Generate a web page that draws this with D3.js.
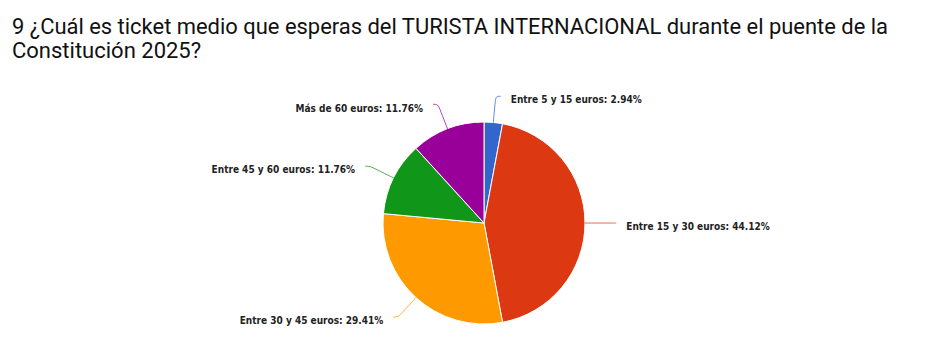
<!DOCTYPE html>
<html lang="es">
<head>
    <meta charset="utf-8">
    <title>Ticket medio turista internacional</title>
    <script src="https://cdn.jsdelivr.net/npm/d3@7/dist/d3.min.js"></script>
</head>
<style>
    body {
        margin: 0;
        padding: 0;
        background-color: #ffffff;
    }
    .chart-title {
        font-family: Roboto, sans-serif;
        font-size: 22px;
        fill: #111;
    }
    .slice-label {
        font-family: "DejaVu Sans Condensed", "DejaVu Sans", sans-serif;
        font-size: 10px;
        font-weight: bold;
        fill: #222;
    }
</style>
<body>
    <svg width="926" height="363" id="chart"></svg>
    <script>
        // data (clockwise from 12 o'clock)
        var categories = ["Entre 5 y 15 euros", "Entre 15 y 30 euros", "Entre 30 y 45 euros", "Entre 45 y 60 euros", "Más de 60 euros"];
        var percents = [2.94, 44.12, 29.41, 11.76, 11.76];
        var colors = ["#3366cc", "#dc3912", "#ff9900", "#109618", "#990099"];
        var titleLines = ["9 ¿Cuál es ticket medio que esperas del TURISTA INTERNACIONAL durante el puente de la", "Constitución 2025?"];

        var svg = d3.select("#chart"),
            cx = 484,
            cy = 223,
            radius = 101;

        // Title
        svg.selectAll(".chart-title")
            .data(titleLines)
            .enter().append("text")
            .attr("class", "chart-title")
            .attr("x", 12)
            .attr("y", function (d, i) { return 34 + i * 24; })
            .text(function (d) { return d; })
            .each(function (d, i) {
                // the original font is a bit narrower than Roboto
                if (i === 0) d3.select(this).attr("textLength", 876).attr("lengthAdjust", "spacingAndGlyphs");
            });

        var data = categories.map(function (c, i) { return { name: c, value: percents[i], color: colors[i] }; });

        var pie = d3.pie()
            .value(function (d) { return d.value; })
            .sort(null);

        var arc = d3.arc()
            .innerRadius(0)
            .outerRadius(radius);

        var arcs = pie(data);

        var g = svg.append("g").attr("transform", "translate(" + cx + "," + cy + ")");

        g.selectAll("path.slice")
            .data(arcs)
            .enter().append("path")
            .attr("class", "slice")
            .attr("d", arc)
            .attr("fill", function (d) { return d.data.color; })
            .attr("stroke", "#fff")
            .attr("stroke-width", 1);

        // polar helper, angle measured clockwise from 12 o'clock
        function polar(a, r) { return [Math.sin(a) * r, -Math.cos(a) * r]; }

        var line = d3.line().curve(d3.curveBasis);

        arcs.forEach(function (d) {
            var a = (d.startAngle + d.endAngle) / 2;
            var right = Math.sin(a) >= -0.001;
            var side = right ? 1 : -1;
            var p0 = polar(a, radius);
            var p1 = polar(a, radius * 1.2);
            var p2 = polar(a, radius * 1.26);
            var p3 = [p2[0] + side * 5, p2[1]];

            g.append("path")
                .attr("d", line([p0, p1, p2, p3]))
                .attr("fill", "none")
                .attr("stroke", d.data.color)
                .attr("stroke-opacity", 0.75)
                .attr("stroke-width", 1);

            g.append("text")
                .attr("class", "slice-label")
                .attr("x", p3[0] + side * 10)
                .attr("y", p3[1] + 4)
                .attr("dy", "0.32em")
                .attr("text-anchor", right ? "start" : "end")
                .text(d.data.name + ": " + d3.format(".2f")(d.data.value) + "%");
        });
    </script>
</body>
</html>
